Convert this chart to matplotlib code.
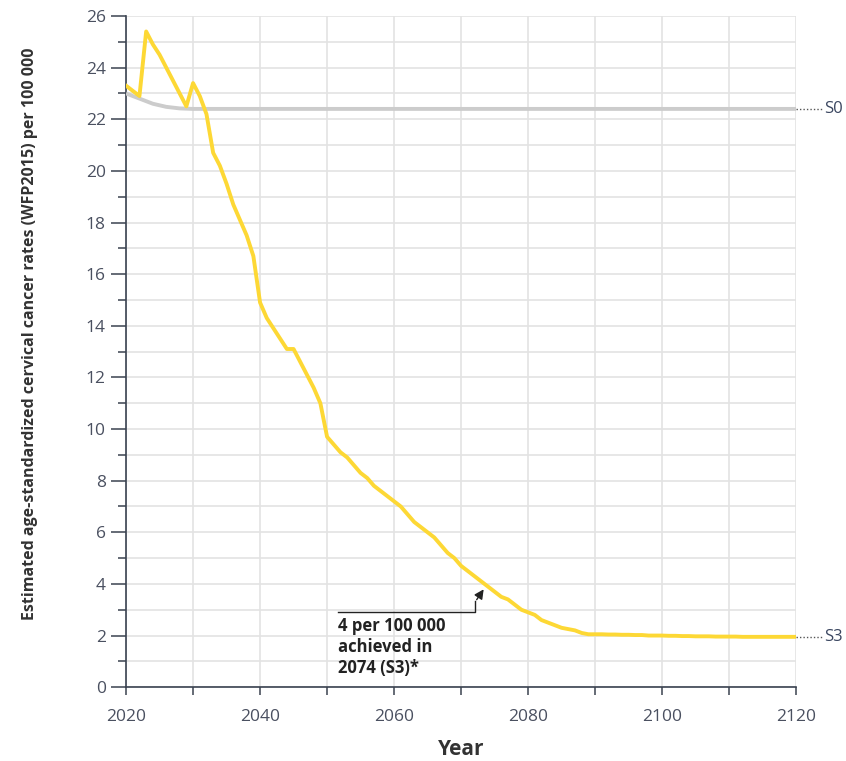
import matplotlib.pyplot as plt
from matplotlib.ticker import MultipleLocator
import numpy as np

plt.rcParams['font.family'] = ['Open Sans', 'DejaVu Sans']

# S3 scenario, yearly values 2020-2120
years_s3 = list(range(2020, 2121))
s3 = [23.3, 23.1, 22.9, 25.4, 24.9, 24.5, 24.0, 23.5, 23.0, 22.5,
      23.4, 22.9, 22.2, 20.7, 20.2, 19.5, 18.7, 18.1, 17.5, 16.7,
      14.9, 14.3, 13.9, 13.5, 13.1, 13.1, 12.6, 12.1, 11.6, 11.0,
      9.7, 9.4, 9.1, 8.9, 8.6, 8.3, 8.1, 7.8, 7.6, 7.4,
      7.2, 7.0, 6.7, 6.4, 6.2, 6.0, 5.8, 5.5, 5.2, 5.0,
      4.7, 4.5, 4.3, 4.1, 3.9, 3.7, 3.5, 3.4, 3.2, 3.0,
      2.9, 2.8, 2.6, 2.5, 2.4, 2.3, 2.25, 2.2, 2.1, 2.05,
      2.05, 2.05, 2.04, 2.04, 2.03, 2.03, 2.02, 2.02, 2.0, 2.0,
      2.0, 1.99, 1.99, 1.98, 1.98, 1.97, 1.97, 1.97, 1.96, 1.96,
      1.96, 1.96, 1.95, 1.95, 1.95, 1.95, 1.95, 1.95, 1.95, 1.95,
      1.95]

# S0 scenario (status quo)
years_s0 = [2020, 2022, 2024, 2026, 2028, 2030, 2040, 2060, 2080, 2100, 2120]
s0 = [23.0, 22.8, 22.6, 22.48, 22.42, 22.4, 22.4, 22.4, 22.4, 22.4, 22.4]

fig = plt.figure(figsize=(8.46, 7.61), dpi=100)
ax = fig.add_axes([0.149, 0.097, 0.792, 0.882])

ax.plot(years_s0, s0, color='#cccccc', lw=2.8, solid_capstyle='butt', zorder=3)
ax.plot(years_s3, s3, color='#fdd835', lw=2.8, zorder=4)

ax.set_xlim(2020, 2120)
ax.set_ylim(0, 26)
ax.xaxis.set_major_locator(MultipleLocator(20))
ax.xaxis.set_minor_locator(MultipleLocator(10))
ax.yaxis.set_major_locator(MultipleLocator(2))
ax.yaxis.set_minor_locator(MultipleLocator(1))
ax.grid(True, which='both', color='#e3e3e3', lw=1.2, zorder=0)
ax.set_axisbelow(True)

for s in ['top', 'right']:
    ax.spines[s].set_visible(False)
for s in ['left', 'bottom']:
    ax.spines[s].set_color('#3a4250')
    ax.spines[s].set_linewidth(1.2)
ax.tick_params(which='both', direction='out', color='#3a4250', width=1.1,
               labelsize=12.5, labelcolor='#4a5060')
ax.tick_params(axis='y', which='major', length=11)
ax.tick_params(axis='y', which='minor', length=6)
ax.tick_params(axis='x', which='both', length=6, pad=10)

ax.set_xlabel('Year', fontsize=15, fontweight='bold', color='#333333', labelpad=10)
ax.set_ylabel('Estimated age-standardized cervical cancer rates (WFP2015) per 100 000',
              fontsize=11.5, fontweight='bold', color='#333333')
ax.yaxis.set_label_coords(-0.132, 0.527)

# end labels
for yv, name in [(s0[-1], 'S0'), (s3[-1], 'S3')]:
    ax.plot([2120, 2124], [yv, yv], ls=(0, (1, 1.5)), color='#555555', lw=1,
            clip_on=False)
    ax.text(2124.2, yv, name, va='center', ha='left', fontsize=12,
            color='#3a4660', clip_on=False)

# annotation for 4 per 100 000
ax.plot([2051.6, 2072.1, 2072.1], [2.9, 2.9, 3.35], color='#222222', lw=1)
ax.annotate('', xy=(2073.6, 3.88), xytext=(2072.1, 3.3),
            arrowprops=dict(arrowstyle='-|>', color='#222222', lw=1,
                            mutation_scale=14))
ax.text(2051.6, 2.72, '4 per 100 000\nachieved in\n2074 (S3)*', ha='left', va='top',
        fontsize=12, fontweight='bold', color='#222222', linespacing=1.2)

fig.savefig('out.png', dpi=100)
